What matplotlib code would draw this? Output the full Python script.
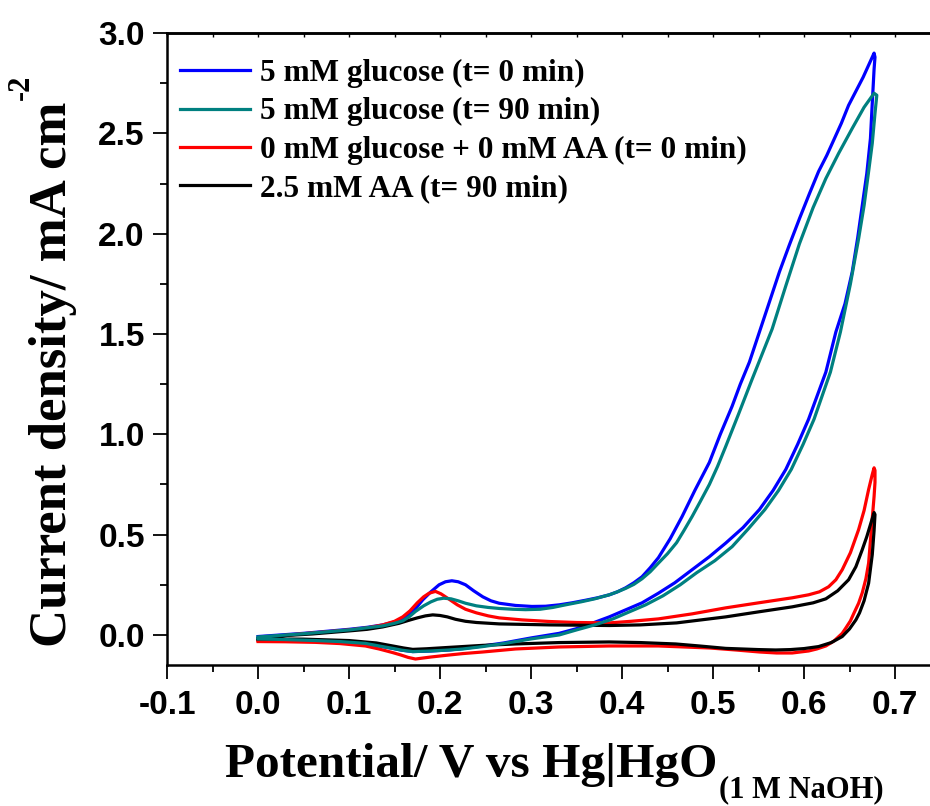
import matplotlib
matplotlib.use("Agg")
import matplotlib.pyplot as plt
from matplotlib.ticker import MultipleLocator

# CV data: anodic sweep, then cathodic sweep (V, mA cm-2)
glu0_E = [0.0, 0.05, 0.10, 0.12, 0.137, 0.15, 0.159, 0.166, 0.172, 0.181, 0.19, 0.199, 0.206, 0.213,
          0.22, 0.228, 0.237, 0.247, 0.256, 0.265, 0.283, 0.301, 0.316, 0.331, 0.345, 0.36, 0.373,
          0.386, 0.395, 0.404, 0.413, 0.422, 0.431, 0.44, 0.453, 0.466, 0.48, 0.496, 0.508, 0.521,
          0.53, 0.54, 0.551, 0.562, 0.573, 0.584, 0.595, 0.606, 0.616, 0.625, 0.633, 0.641, 0.649,
          0.657, 0.665, 0.672, 0.677,
          0.678, 0.677, 0.675, 0.673, 0.669, 0.664, 0.659, 0.653, 0.645, 0.635, 0.624, 0.605, 0.593,
          0.58, 0.566, 0.551, 0.533, 0.514, 0.496, 0.477, 0.458, 0.44, 0.422, 0.404, 0.386, 0.367,
          0.349, 0.331, 0.30, 0.27, 0.247, 0.225, 0.21, 0.19, 0.17, 0.158, 0.148, 0.133, 0.118,
          0.09, 0.063, 0.03, 0.0]
glu0_j = [-0.008, 0.008, 0.028, 0.038, 0.05, 0.065, 0.083, 0.1, 0.125, 0.175, 0.215, 0.25, 0.265, 0.27,
          0.265, 0.25, 0.22, 0.19, 0.17, 0.158, 0.147, 0.142, 0.143, 0.15, 0.16, 0.173, 0.185,
          0.2, 0.215, 0.235, 0.26, 0.29, 0.335, 0.385, 0.48, 0.59, 0.72, 0.86, 1.0, 1.14,
          1.25, 1.36, 1.51, 1.66, 1.81, 1.945, 2.075, 2.2, 2.31, 2.39, 2.47, 2.55, 2.64,
          2.71, 2.78, 2.85, 2.9,
          2.88, 2.82, 2.65, 2.475, 2.3, 2.14, 1.98, 1.81, 1.65, 1.51, 1.31, 1.075, 0.95,
          0.825, 0.72, 0.625, 0.535, 0.458, 0.39, 0.325, 0.26, 0.208, 0.16, 0.125, 0.09, 0.058,
          0.03, 0.008, -0.015, -0.04, -0.055, -0.068, -0.075, -0.08, -0.083, -0.076, -0.067, -0.055, -0.042,
          -0.033, -0.028, -0.023, -0.02]

glu90_E = [0.0, 0.05, 0.10, 0.137, 0.15, 0.159, 0.166, 0.173, 0.182, 0.19, 0.197, 0.204, 0.212, 0.22,
           0.228, 0.24, 0.253, 0.265, 0.28, 0.294, 0.31, 0.324, 0.338, 0.355, 0.37, 0.386, 0.395,
           0.404, 0.413, 0.422, 0.431, 0.44, 0.45, 0.46, 0.468, 0.477, 0.486, 0.496, 0.505, 0.514,
           0.528, 0.543, 0.554, 0.565, 0.58, 0.595, 0.61, 0.624, 0.638, 0.653, 0.666, 0.677,
           0.68, 0.678, 0.675, 0.671, 0.666, 0.66, 0.651, 0.64, 0.629, 0.611, 0.599, 0.586, 0.572,
           0.557, 0.539, 0.521, 0.502, 0.482, 0.464, 0.445, 0.426, 0.408, 0.39, 0.37, 0.35, 0.331,
           0.30, 0.27, 0.247, 0.225, 0.21, 0.19, 0.17, 0.158, 0.148, 0.133, 0.118, 0.09, 0.063,
           0.03, 0.0]
glu90_j = [-0.01, 0.006, 0.025, 0.045, 0.058, 0.07, 0.09, 0.117, 0.145, 0.165, 0.178, 0.183, 0.18, 0.17,
           0.158, 0.145, 0.137, 0.132, 0.128, 0.126, 0.128, 0.137, 0.15, 0.165, 0.18, 0.2, 0.215,
           0.232, 0.252, 0.28, 0.315, 0.358, 0.405, 0.46, 0.52, 0.59, 0.665, 0.75, 0.84, 0.94,
           1.1, 1.275, 1.4, 1.525, 1.74, 1.95, 2.13, 2.275, 2.4, 2.525, 2.63, 2.7,
           2.69, 2.6, 2.45, 2.31, 2.14, 1.975, 1.75, 1.51, 1.31, 1.075, 0.95, 0.825, 0.72,
           0.625, 0.53, 0.44, 0.37, 0.31, 0.25, 0.195, 0.15, 0.115, 0.08, 0.05, 0.025, 0.0,
           -0.02, -0.043, -0.058, -0.07, -0.075, -0.08, -0.083, -0.076, -0.067, -0.055, -0.042, -0.033, -0.028,
           -0.023, -0.02]

blank_E = [0.0, 0.03, 0.06, 0.10, 0.12, 0.137, 0.15, 0.159, 0.167, 0.175, 0.182, 0.188, 0.195, 0.201,
           0.21, 0.219, 0.228, 0.24, 0.253, 0.265, 0.29, 0.32, 0.35, 0.386, 0.41, 0.44, 0.477,
           0.514, 0.55, 0.587, 0.605, 0.617, 0.627, 0.635, 0.642, 0.651, 0.66, 0.666, 0.671, 0.675,
           0.677,
           0.678, 0.678, 0.677, 0.675, 0.673, 0.671, 0.668, 0.664, 0.66, 0.655, 0.651, 0.646, 0.642,
           0.633, 0.624, 0.614, 0.605, 0.587, 0.57, 0.551, 0.525, 0.496, 0.44, 0.386, 0.331, 0.283,
           0.247, 0.225, 0.21, 0.19, 0.173, 0.165, 0.157, 0.148, 0.133, 0.118, 0.09, 0.063, 0.03, 0.0]
blank_j = [-0.025, -0.002, 0.01, 0.025, 0.035, 0.05, 0.068, 0.09, 0.12, 0.16, 0.19, 0.208, 0.217, 0.205,
           0.178, 0.15, 0.128, 0.11, 0.095, 0.085, 0.075, 0.067, 0.062, 0.06, 0.068, 0.08, 0.105,
           0.135, 0.16, 0.185, 0.2, 0.215, 0.24, 0.275, 0.325, 0.41, 0.525, 0.62, 0.725, 0.8,
           0.833,
           0.82, 0.76, 0.69, 0.58, 0.47, 0.358, 0.28, 0.21, 0.158, 0.11, 0.07, 0.035, 0.008,
           -0.03, -0.055, -0.07, -0.08, -0.09, -0.09, -0.085, -0.075, -0.065, -0.055, -0.055, -0.06, -0.07,
           -0.085, -0.093, -0.1, -0.11, -0.12, -0.112, -0.1, -0.088, -0.07, -0.055, -0.043, -0.037, -0.034, -0.033]

aa_E = [0.0, 0.03, 0.06, 0.10, 0.12, 0.137, 0.155, 0.165, 0.175, 0.184, 0.192, 0.2, 0.208, 0.217,
        0.228, 0.24, 0.265, 0.32, 0.386, 0.42, 0.46, 0.514, 0.55, 0.587, 0.61, 0.624, 0.637, 0.649,
        0.657, 0.664, 0.669, 0.673, 0.677,
        0.678, 0.677, 0.675, 0.671, 0.666, 0.661, 0.657, 0.65, 0.642, 0.63, 0.616, 0.6, 0.585,
        0.569, 0.55, 0.514, 0.485, 0.459, 0.42, 0.386, 0.331, 0.283, 0.247, 0.21, 0.185, 0.17,
        0.16, 0.148, 0.13, 0.10, 0.05, 0.0]
aa_j = [-0.017, -0.003, 0.005, 0.02, 0.028, 0.04, 0.058, 0.072, 0.085, 0.095, 0.1, 0.097, 0.09, 0.078,
        0.068, 0.062, 0.055, 0.05, 0.047, 0.05, 0.06, 0.09, 0.115, 0.14, 0.16, 0.18, 0.22, 0.275,
        0.34, 0.425, 0.49, 0.55, 0.61,
        0.6, 0.52, 0.4, 0.258, 0.17, 0.11, 0.075, 0.03, -0.008, -0.038, -0.058, -0.068, -0.073,
        -0.075, -0.073, -0.067, -0.055, -0.045, -0.038, -0.035, -0.038, -0.045, -0.052, -0.062, -0.069, -0.072,
        -0.065, -0.055, -0.04, -0.028, -0.021, -0.02]

labels = ["5 mM glucose (t= 0 min)", "5 mM glucose (t= 90 min)",
          "0 mM glucose + 0 mM AA (t= 0 min)", "2.5 mM AA (t= 90 min)"]
colors = ["#0000ff", "#008080", "#ff0000", "#000000"]
xticks = [-0.1, 0.0, 0.1, 0.2, 0.3, 0.4, 0.5, 0.6, 0.7]
yticks = [0.0, 0.5, 1.0, 1.5, 2.0, 2.5, 3.0]

serif = "Liberation Serif"

fig = plt.figure(figsize=(9.3, 8.06), dpi=100)
ax = fig.add_axes([0.1796, 0.1749, 0.8317, 0.7841])

series = [(glu0_E, glu0_j), (glu90_E, glu90_j), (blank_E, blank_j), (aa_E, aa_j)]
zorders = [2, 5, 3, 4]
for (E, j), lab, c, z in zip(series, labels, colors, zorders):
    ax.plot(E, j, color=c, lw=2.3, label=lab, zorder=z, solid_joinstyle="round")

ax.set_xlim(-0.1, 0.75)
ax.set_ylim(-0.15, 3.0)
ax.xaxis.set_minor_locator(MultipleLocator(0.05))
ax.yaxis.set_minor_locator(MultipleLocator(0.25))
ax.set_xticks(xticks)
ax.set_xticklabels([f"{v:.1f}" for v in xticks])
ax.set_yticks(yticks)
ax.set_yticklabels([f"{v:.1f}" for v in yticks])

ax.tick_params(axis="x", which="major", direction="out", length=10, width=1.3, pad=8)
ax.tick_params(axis="y", which="major", direction="out", length=10, width=1.3, pad=6)
ax.tick_params(which="minor", direction="out", length=5, width=1.3)
for lab in ax.get_xticklabels() + ax.get_yticklabels():
    lab.set_fontfamily("Liberation Sans")
    lab.set_fontweight("bold")
    lab.set_fontsize(24)
for s in ax.spines.values():
    s.set_linewidth(1.8)

top = ax.secondary_xaxis("top")
top.xaxis.set_major_locator(MultipleLocator(0.05))
top.tick_params(direction="in", length=3, width=1.0, labeltop=False)
top.spines["top"].set_linewidth(1.8)

# axis labels, with super/subscript as separate texts anchored on the label
ax.set_xlabel("Potential/ V vs Hg|HgO", fontfamily=serif, fontweight="bold", fontsize=35.5)
ax.xaxis.set_label_coords(0.3937, -0.124)
ax.set_ylabel("Current density/ mA cm", fontfamily=serif, fontweight="bold", fontsize=38)
ax.yaxis.set_label_coords(-0.1164, 0.4604)

fig.canvas.draw()
ax.annotate("(1 M NaOH)", xy=(1.0, 0.0), xycoords=ax.xaxis.label, xytext=(1, -7),
            textcoords="offset points", ha="left", va="baseline",
            fontfamily=serif, fontweight="bold", fontsize=22, annotation_clip=False)
ax.annotate("-2", xy=(0.0, 1.0), xycoords=ax.yaxis.label, xytext=(0, 1),
            textcoords="offset points", ha="left", va="baseline", rotation=90,
            rotation_mode="anchor", fontfamily=serif, fontweight="bold", fontsize=22,
            annotation_clip=False)

ax.legend(loc="upper left", bbox_to_anchor=(0.0168, 0.959), frameon=False,
          prop={"family": serif, "weight": "bold", "size": 22.5},
          handlelength=2.25, handletextpad=0.3, labelspacing=0.3, borderaxespad=0.0,
          borderpad=0.0)

fig.savefig("out.png", dpi=100)
